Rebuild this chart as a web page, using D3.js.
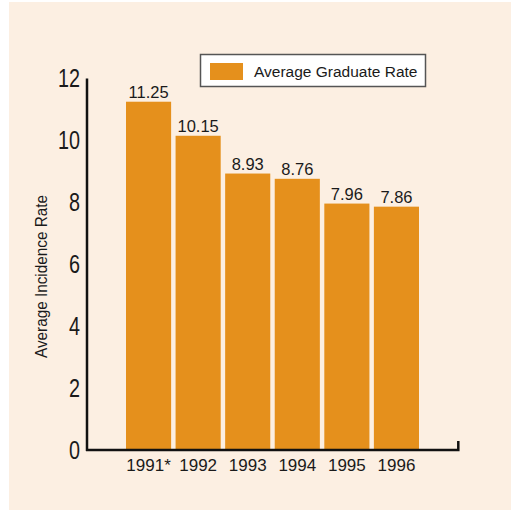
<!DOCTYPE html>
<html>
<head>
<meta charset="utf-8">
<script src="https://cdn.jsdelivr.net/npm/d3@7"></script>
<style>
  html, body { margin: 0; padding: 0; background: #ffffff; }
  svg { display: block; font-family: Arial, "Liberation Sans", sans-serif; }
</style>
</head>
<body>
<svg id="chart" width="511" height="512"></svg>
<script>
// Average graduate rate by year
const years = ["1991*", "1992", "1993", "1994", "1995", "1996"];
const rates = [11.25, 10.15, 8.93, 8.76, 7.96, 7.86];
const yTicks = [0, 2, 4, 6, 8, 10, 12];
const seriesName = "Average Graduate Rate";
const yTitle = "Average Incidence Rate";

const barColor = "#E5901C";
const panelColor = "#FCEFE2";

const svg = d3.select("#chart");

// Panel background
svg.append("rect")
  .attr("x", 9).attr("y", 2)
  .attr("width", 502).attr("height", 508)
  .attr("fill", panelColor);

const x = d3.scaleBand()
  .domain(years)
  .range([126, 419])
  .paddingInner(0.09)
  .paddingOuter(0);

const y = d3.scaleLinear()
  .domain([0, 12])
  .range([450, 78.5]);

// Bars
svg.append("g").selectAll("rect")
  .data(rates)
  .join("rect")
  .attr("x", (d, i) => x(years[i]))
  .attr("y", d => y(d))
  .attr("width", x.bandwidth())
  .attr("height", d => y(0) - y(d))
  .attr("fill", barColor);

// Value labels
svg.append("g").selectAll("text")
  .data(rates)
  .join("text")
  .attr("x", (d, i) => x(years[i]) + x.bandwidth() / 2)
  .attr("y", d => y(d) - 4)
  .attr("text-anchor", "middle")
  .attr("font-size", 16.5)
  .attr("fill", "#1a1a1a")
  .text(d => d.toFixed(2));

// Y axis: condensed labels only, with a plain line
const yAxis = d3.axisLeft(y).tickValues(yTicks).tickSize(0).tickPadding(7);
const gy = svg.append("g").attr("transform", "translate(87,0)").call(yAxis);
gy.select(".domain").remove();
gy.selectAll("text")
  .attr("font-size", 25.5)
  .attr("font-family", "Arial, 'Liberation Sans', sans-serif")
  .attr("fill", "#1a1a1a")
  .attr("lengthAdjust", "spacingAndGlyphs")
  .attr("textLength", d => String(d).length * 11);

svg.append("line")
  .attr("x1", 87).attr("x2", 87)
  .attr("y1", y(12)).attr("y2", y(0) + 1)
  .attr("stroke", "#111").attr("stroke-width", 2.5);

// X axis line with end cap
svg.append("path")
  .attr("d", `M86,${y(0)} H458.3 V441`)
  .attr("fill", "none")
  .attr("stroke", "#111")
  .attr("stroke-width", 2.5);

// X labels
const xAxis = d3.axisBottom(x).tickSize(0).tickPadding(9);
const gx = svg.append("g").attr("transform", `translate(0,${y(0)})`).call(xAxis);
gx.select(".domain").remove();
gx.selectAll("text")
  .attr("font-size", 17)
  .attr("font-family", "Arial, 'Liberation Sans', sans-serif")
  .attr("fill", "#1a1a1a");

// Y title
svg.append("text")
  .attr("transform", "translate(46.5,276.5) rotate(-90)")
  .attr("text-anchor", "middle")
  .attr("font-size", 16.5)
  .attr("fill", "#1a1a1a")
  .attr("lengthAdjust", "spacingAndGlyphs")
  .attr("textLength", 163)
  .text(yTitle);

// Legend
const legend = svg.append("g");
legend.append("rect")
  .attr("x", 200.5).attr("y", 54.5)
  .attr("width", 225).attr("height", 32)
  .attr("fill", "#ffffff")
  .attr("stroke", "#555")
  .attr("stroke-width", 1.5);
legend.append("rect")
  .attr("x", 210).attr("y", 63)
  .attr("width", 33).attr("height", 17)
  .attr("fill", barColor);
legend.append("text")
  .attr("x", 254).attr("y", 77)
  .attr("font-size", 15.5)
  .attr("fill", "#1a1a1a")
  .text(seriesName);
</script>
</body>
</html>
